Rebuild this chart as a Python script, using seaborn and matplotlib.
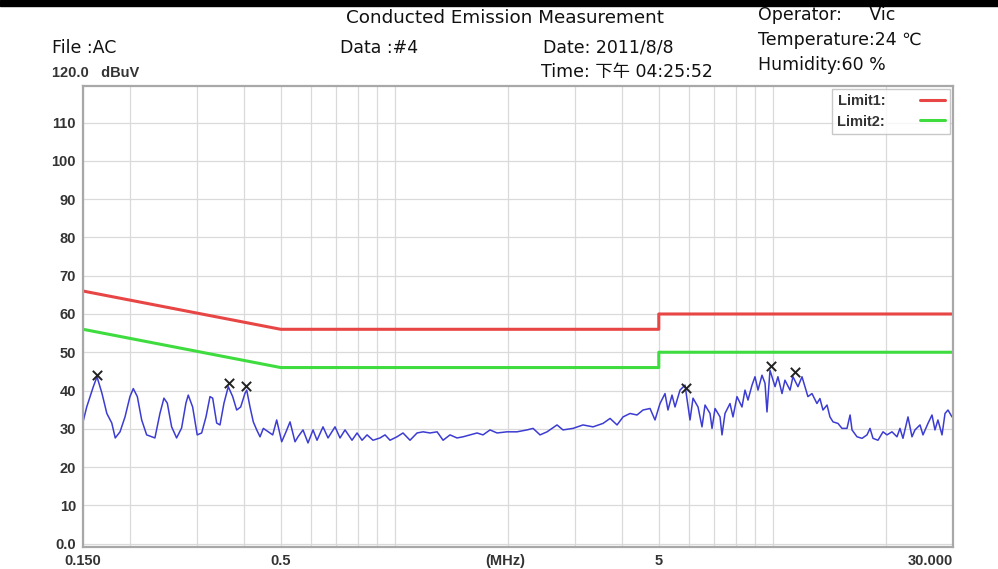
import numpy as np
import pandas as pd
import matplotlib
matplotlib.use("Agg")
import matplotlib.pyplot as plt
import seaborn as sns

freq = [0.150, 0.1534, 0.1597, 0.1633, 0.1683, 0.1734, 0.1787, 0.1825, 0.1879, 0.1937,
        0.1996, 0.2037, 0.2088, 0.2144, 0.2210, 0.2278, 0.2324, 0.2396, 0.2455, 0.2506,
        0.2573, 0.2652, 0.2734, 0.2807, 0.2847, 0.2924, 0.3007, 0.3089, 0.3172, 0.3250,
        0.3304, 0.3385, 0.3454, 0.3539, 0.3633, 0.3732, 0.3824, 0.3918, 0.4023, 0.4065,
        0.4147, 0.4231, 0.4320, 0.4408, 0.4498, 0.4637, 0.4762, 0.4879, 0.5030, 0.5164,
        0.5292, 0.5455, 0.5555, 0.5727, 0.5904, 0.6087, 0.6237, 0.6469, 0.6669, 0.696,
        0.7175, 0.7397, 0.7719, 0.7959, 0.8205, 0.8459, 0.8772, 0.9155, 0.9438, 0.9729,
        1.015, 1.053, 1.099, 1.147, 1.190, 1.241, 1.296, 1.344, 1.402, 1.463,
        1.518, 1.584, 1.653, 1.714, 1.789, 1.867, 1.983, 2.108, 2.241, 2.325,
        2.426, 2.532, 2.690, 2.790, 2.966, 3.152, 3.350, 3.560, 3.716, 3.878,
        4.022, 4.197, 4.379, 4.542, 4.740, 4.886, 5.037, 5.193, 5.287, 5.419,
        5.519, 5.690, 5.866, 6.047, 6.159, 6.349, 6.505, 6.626, 6.831, 6.915,
        7.043, 7.260, 7.348, 7.483, 7.715, 7.857, 8.050, 8.299, 8.453, 8.608,
        8.821, 8.983, 9.149, 9.374, 9.548, 9.664, 9.842, 10.15, 10.33, 10.59,
        10.78, 11.12, 11.32, 11.67, 11.96, 12.18, 12.40, 12.71, 13.10, 13.34,
        13.59, 13.93, 14.18, 14.45, 14.89, 15.26, 15.73, 16.03, 16.22, 16.72,
        17.24, 17.77, 18.10, 18.43, 19.00, 19.59, 20.07, 20.69, 21.33, 21.72,
        22.12, 22.81, 23.37, 23.80, 24.54, 24.99, 25.76, 26.40, 26.88, 27.37,
        28.06, 28.58, 29.10, 29.82]
level = [31.8, 35.7, 41.0, 43.6, 39.3, 34.0, 31.5, 27.6, 29.2, 33.1,
         38.4, 40.5, 38.4, 32.3, 28.4, 27.9, 27.6, 34.0, 38.0, 36.7,
         30.5, 27.6, 30.2, 36.7, 38.8, 35.7, 28.4, 28.9, 33.1, 38.4,
         38.0, 31.5, 31.0, 36.7, 41.0, 38.4, 34.9, 35.7, 39.3, 40.1,
         35.7, 31.8, 29.7, 27.9, 30.1, 29.2, 28.4, 32.3, 26.6, 29.2,
         31.8, 26.6, 27.9, 29.7, 26.3, 29.7, 27.0, 30.5, 27.6, 30.5,
         27.6, 29.7, 27.0, 28.9, 27.0, 28.4, 27.0, 27.6, 28.4, 27.0,
         27.9, 28.9, 27.0, 28.9, 29.2, 28.9, 29.2, 27.0, 28.4, 27.6,
         27.9, 28.4, 28.9, 28.4, 29.7, 28.9, 29.2, 29.2, 29.7, 30.1,
         28.4, 29.2, 31.0, 29.7, 30.1, 31.0, 30.5, 31.4, 32.7, 31.0,
         33.1, 34.0, 33.6, 34.9, 35.3, 32.3, 36.6, 39.2, 34.9, 38.8,
         35.7, 40.1, 41.4, 32.3, 38.0, 35.7, 30.5, 36.2, 34.0, 30.1,
         35.3, 33.1, 28.4, 34.0, 36.6, 33.1, 38.4, 35.7, 40.1, 37.5,
         41.4, 43.6, 40.1, 44.0, 41.9, 34.4, 45.3, 41.0, 43.6, 39.2,
         42.7, 40.1, 43.6, 41.0, 43.6, 41.0, 38.4, 39.2, 36.6, 37.9,
         34.9, 36.2, 33.1, 31.8, 31.4, 30.1, 30.1, 33.6, 29.7, 27.9,
         27.5, 28.4, 30.1, 27.5, 27.0, 29.2, 28.4, 29.2, 27.9, 30.1,
         27.5, 33.1, 27.9, 29.7, 31.0, 28.4, 31.4, 33.6, 29.7, 32.3,
         28.4, 34.0, 34.9, 33.1]

# peak markers
peak_freq = [0.163, 0.364, 0.405, 5.90, 9.90, 11.46]
peak_level = [44.0, 42.0, 41.1, 40.6, 46.4, 44.8]

# limit lines
limit_freq = [0.15, 0.5, 5.0, 5.0, 30.0]
limit1 = [66, 56, 56, 60, 60]
limit2 = [56, 46, 46, 50, 50]

trace = pd.DataFrame({"f": freq, "dB": level})
lim = pd.DataFrame({"f": limit_freq, "L1": limit1, "L2": limit2})
peaks = pd.DataFrame({"f": peak_freq, "dB": peak_level})

sns.set_style("white")
plt.rcParams["font.family"] = ["Liberation Sans", "Noto Sans CJK SC", "DejaVu Sans"]

fig = plt.figure(figsize=(9.98, 5.69), dpi=100)
ax = fig.add_axes([0.0832, 0.0387, 0.8717, 0.8102])

sns.lineplot(data=lim, x="f", y="L1", ax=ax, color="#e84545", lw=2.2,
             estimator=None, sort=False, label="Limit1:")
sns.lineplot(data=lim, x="f", y="L2", ax=ax, color="#3fdc3f", lw=2.2,
             estimator=None, sort=False, label="Limit2:")
sns.lineplot(data=trace, x="f", y="dB", ax=ax, color="#3c3cd2", lw=1.1,
             estimator=None, sort=False, legend=False)
sns.scatterplot(data=peaks, x="f", y="dB", ax=ax, marker="x", color="#222222",
                s=45, linewidth=1.4, legend=False, zorder=5)

ax.set_xscale("log")
ax.set_xlim(0.15, 30)
ax.set_ylim(-0.9, 119.6)
ax.set_xlabel("")
ax.set_ylabel("")

lab_kw = dict(fontsize=10.5, fontweight="bold", color="#333333")
ax.set_yticks(range(0, 120, 10))
ax.set_yticklabels(["0.0"] + [str(v) for v in range(10, 120, 10)], **lab_kw)
ax.set_xticks([0.15, 0.5, 5, 30])
ax.set_xticklabels(["0.150", "0.5", "5", "30.000"], **lab_kw)
ax.get_xticklabels()[-1].set_horizontalalignment("right")
ax.get_xticklabels()[-1].set_x(30)
ax.xaxis.set_minor_locator(matplotlib.ticker.LogLocator(base=10, subs=np.arange(1, 10)))
ax.xaxis.set_minor_formatter(matplotlib.ticker.NullFormatter())
ax.tick_params(length=0, which="both", pad=5)
ax.grid(True, which="major", color="#dadada", lw=0.9)
ax.grid(True, which="minor", axis="x", color="#dadada", lw=0.9)
for s in ax.spines.values():
    s.set_color("#a8a8a8")
    s.set_linewidth(1.6)

ax.text(0.485, -0.03, "(MHz)", transform=ax.transAxes, ha="center", va="center", **lab_kw)

leg = ax.legend(loc="upper right", markerfirst=False, frameon=True, fancybox=False,
                borderaxespad=0.2, handlelength=1.7, handletextpad=2.4,
                labelspacing=0.45, borderpad=0.35, prop={"size": 10.5, "weight": "bold"})
leg.get_frame().set_edgecolor("#bbbbbb")
leg.get_frame().set_linewidth(1.0)
for t in leg.get_texts():
    t.set_color("#333333")

# header texts
def htext(x, y, s, size=12.5, **kw):
    fig.text(x / 998, 1 - y / 569, s, va="center", ha="left", fontsize=size,
             color="#111111", family=["DejaVu Sans", "Noto Sans CJK SC"], **kw)

htext(346, 18, "Conducted Emission Measurement", size=13.2)
htext(52, 48, "File :AC")
htext(340, 48, "Data :#4")
htext(543, 48, "Date: 2011/8/8")
htext(541, 72, "Time: 下午 04:25:52")
htext(758, 15, "Operator:     Vic")
htext(758, 40, "Temperature:24 ℃")
htext(758, 65, "Humidity:60 %")
fig.text(52 / 998, 1 - 73 / 569, "120.0   dBuV", va="center", ha="left", **lab_kw)

fig.patches.append(plt.Rectangle((0, 1 - 6 / 569), 1, 6 / 569, transform=fig.transFigure,
                                 color="black", zorder=10))

fig.savefig("out.png", dpi=100, facecolor="white")
